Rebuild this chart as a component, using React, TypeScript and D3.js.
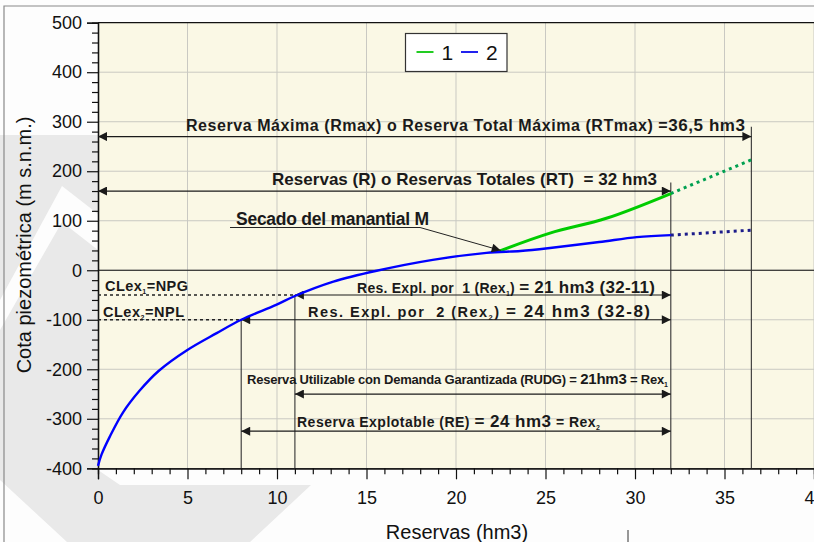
import React, { useEffect, useRef } from 'react';
import * as d3 from 'd3';

// curve 2 (blue), solid part
const blueX = [0, 0.2, 0.66, 1.4, 2.33, 3.4, 4.95, 6.63, 8, 9.95, 11, 13.15, 15.57, 18.7, 21.7, 23.6, 25.25, 28, 30.1, 32];
const blueY = [-395, -372, -336, -287, -243, -203, -162, -127, -100, -70, -52, -23, -1, 21, 35, 39, 45, 57, 67, 71];
// curve 1 (green), from the spring drying point
const greenX = [22.45, 25.25, 28.4, 32];
const greenY = [39, 75, 105, 155];
// dotted extrapolations up to Rmax
const blueDotX = [32, 36.5];
const blueDotY = [71, 81];
const greenDotX = [32, 36.5];
const greenDotY = [155, 223];

const xTicks = [0, 5, 10, 15, 20, 25, 30, 35, 40];
const yTicks = [-400, -300, -200, -100, 0, 100, 200, 300, 400, 500];

const FONT = '"Liberation Sans", Arial, sans-serif';
const NB = '\u00a0';

export default function App() {
  const ref = useRef<SVGSVGElement>(null);

  useEffect(() => {
    const svg = d3.select(ref.current);
    svg.selectAll('*').remove();

    const x = d3.scaleLinear().domain([0, 40]).range([98, 814]);
    const y = d3.scaleLinear().domain([-400, 500]).range([468.3, 22.7]);

    const defs = svg.append('defs');
    ['end', 'start'].forEach((k) => {
      defs.append('marker')
        .attr('id', 'arr-' + k)
        .attr('viewBox', '0 0 10 10')
        .attr('refX', k === 'end' ? 10 : 0)
        .attr('refY', 5)
        .attr('markerWidth', 11)
        .attr('markerHeight', 9)
        .attr('markerUnits', 'userSpaceOnUse')
        .attr('orient', 'auto')
        .append('path')
        .attr('d', k === 'end' ? 'M0,0L10,5L0,10Z' : 'M10,0L0,5L10,10Z')
        .attr('fill', '#1a1a1a');
    });

    // page background + faint watermark shapes
    svg.append('rect').attr('width', 814).attr('height', 542).attr('fill', '#fdfdfd');
    const wm = svg.append('g').attr('fill', '#e9e9e9');
    wm.append('path').attr('d', 'M0,135L98,135L98,470L0,470Z');
    wm.append('path').attr('d', 'M0,470L98,470L120,485L311,485L250,542L67,542L0,480Z');
    svg.append('path').attr('d', 'M0,300L62,186L98,214L98,250L62,222L0,330Z').attr('fill', '#fdfdfd');

    // frame
    svg.append('path').attr('d', 'M4,542L4,6L814,6').attr('fill', 'none').attr('stroke', '#8a8a8a').attr('stroke-width', 1.2);
    svg.append('line').attr('x1', 628).attr('x2', 628).attr('y1', 530).attr('y2', 542).attr('stroke', '#333');

    // plot area
    svg.append('rect')
      .attr('x', x(0)).attr('y', y(500))
      .attr('width', 830 - x(0)).attr('height', y(-400) - y(500))
      .attr('fill', '#faf8e5');

    const grid = svg.append('g').attr('stroke', '#c9c9c2').attr('stroke-width', 1);
    xTicks.slice(1).forEach((t) => {
      grid.append('line').attr('x1', x(t)).attr('x2', x(t)).attr('y1', y(500)).attr('y2', y(-400));
    });
    yTicks.slice(1, -1).forEach((t) => {
      grid.append('line').attr('x1', x(0)).attr('x2', 830).attr('y1', y(t)).attr('y2', y(t));
    });

    // axes
    const fmt = (d: d3.NumberValue) => String(d);
    const xAxis = svg.append('g')
      .attr('transform', `translate(0,${y(-400)})`)
      .call(d3.axisBottom(x).tickValues(xTicks).tickSize(11).tickPadding(12).tickFormat(fmt));
    xAxis.append('g').call(
      d3.axisBottom(x).tickValues(d3.range(0, 41, 1).filter((v) => v % 5 !== 0)).tickSize(6).tickFormat(() => '')
    );
    const yAxis = svg.append('g')
      .attr('transform', `translate(${x(0)},0)`)
      .call(d3.axisLeft(y).tickValues(yTicks).tickSize(11).tickPadding(4).tickFormat(fmt));
    yAxis.append('g').call(
      d3.axisLeft(y).tickValues(d3.range(-400, 501, 20).filter((v) => v % 100 !== 0)).tickSize(6).tickFormat(() => '')
    );
    svg.selectAll('.domain').attr('stroke', '#111').attr('stroke-width', 1.3);
    svg.selectAll('.tick line').attr('stroke', '#111').attr('stroke-width', 1.2);
    svg.selectAll('.tick text').attr('font-family', FONT).attr('font-size', 18).attr('fill', '#111');
    yAxis.selectAll('.tick text').attr('x', -16);
    // top border
    svg.append('line').attr('x1', x(0)).attr('x2', 830).attr('y1', y(500)).attr('y2', y(500)).attr('stroke', '#111').attr('stroke-width', 1.3);

    // zero line
    svg.append('line').attr('x1', x(0)).attr('x2', 830).attr('y1', y(0)).attr('y2', y(0)).attr('stroke', '#111').attr('stroke-width', 1.2);

    // vertical reference lines
    const vref: [number, number][] = [[8, -100], [11, -50], [32, 177], [36.5, 290]];
    vref.forEach(([vx, top]) => {
      svg.append('line').attr('x1', x(vx)).attr('x2', x(vx)).attr('y1', y(top)).attr('y2', y(-400))
        .attr('stroke', '#333').attr('stroke-width', 1.1);
    });

    // dashed level lines
    [[11, -50], [8, -100]].forEach(([vx, lv]) => {
      svg.append('line').attr('x1', x(0)).attr('x2', x(vx)).attr('y1', y(lv)).attr('y2', y(lv))
        .attr('stroke', '#222').attr('stroke-width', 1.3).attr('stroke-dasharray', '3,3');
    });

    // double arrows
    const arrows: [number, number, number][] = [
      [0, 36.5, 270], [0, 32, 160], [11, 32, -50], [8, 32, -100], [11, 32, -250], [8, 32, -325],
    ];
    arrows.forEach(([a, b, lv]) => {
      svg.append('line').attr('x1', x(a)).attr('x2', x(b)).attr('y1', y(lv)).attr('y2', y(lv))
        .attr('stroke', '#1a1a1a').attr('stroke-width', 1.2)
        .attr('marker-start', 'url(#arr-start)').attr('marker-end', 'url(#arr-end)');
    });

    // curves
    const line = d3.line<[number, number]>().x((d) => x(d[0])).y((d) => y(d[1])).curve(d3.curveCatmullRom.alpha(0.5));
    const zip = (xs: number[], ys: number[]) => xs.map((v, i) => [v, ys[i]] as [number, number]);
    svg.append('path').attr('d', line(zip(blueDotX, blueDotY))).attr('fill', 'none')
      .attr('stroke', '#1c1c8a').attr('stroke-width', 3).attr('stroke-dasharray', '3,4');
    svg.append('path').attr('d', line(zip(greenDotX, greenDotY))).attr('fill', 'none')
      .attr('stroke', '#00a050').attr('stroke-width', 3).attr('stroke-dasharray', '3,4');
    svg.append('path').attr('d', line(zip(greenX, greenY))).attr('fill', 'none')
      .attr('stroke', '#00cc00').attr('stroke-width', 3);
    svg.append('path').attr('d', line(zip(blueX, blueY))).attr('fill', 'none')
      .attr('stroke', '#0000ff').attr('stroke-width', 2.4);

    // spring pointer
    svg.append('line').attr('x1', 230).attr('x2', 420).attr('y1', 227.5).attr('y2', 227.5).attr('stroke', '#222').attr('stroke-width', 1);
    svg.append('line').attr('x1', 420).attr('x2', x(22.5)).attr('y1', 227.5).attr('y2', y(40)).attr('stroke', '#222').attr('stroke-width', 1)
      .attr('marker-end', 'url(#arr-end)');

    // texts: parts are [text, size, subscript?]; width forces the span seen in the reference
    const txt = (tx: number, ty: number, width: number, parts: [string, number, boolean?][]) => {
      const t = svg.append('text').attr('x', tx).attr('y', ty).attr('font-family', FONT)
        .attr('font-weight', 'bold').attr('fill', '#1a1a1a')
        .attr('textLength', width).attr('lengthAdjust', 'spacing');
      let lastSub = false;
      parts.forEach(([s, size, sub]) => {
        const sp = t.append('tspan').attr('font-size', size).text(s);
        if (sub) sp.attr('dy', 3);
        else if (lastSub) sp.attr('dy', -3);
        lastSub = !!sub;
      });
      return t;
    };
    txt(186, 131, 559, [['Reserva Máxima (Rmax) o Reserva Total Máxima (RTmax) =', 16], ['36,5 hm3', 17]]);
    txt(272, 185, 385, [[`Reservas (R) o Reservas Totales (RT)${NB} = 32 hm3`, 17]]);
    txt(236, 225, 193, [['Secado del manantial M', 17.5]]);
    txt(105, 291, 83, [['CLex', 14.5], ['1', 7, true], ['=NPG', 14.5]]);
    txt(103, 317, 81, [['CLex', 14.5], ['2', 7, true], ['=NPL', 14.5]]);
    txt(357, 293, 298, [[`Res. Expl. por${NB} 1 (Rex`, 14], ['1', 7, true], [') ', 14], ['= 21 hm3 (32-11)', 17]]);
    txt(308, 317, 342, [[`Res. Expl. por${NB} 2 (Rex`, 14.5], ['2', 7.5, true], [') ', 14.5], ['= 24 hm3 (32-8)', 17]]);
    txt(247, 384, 421, [['Reserva Utilizable con Demanda Garantizada (RUDG) = ', 13], ['21hm3', 15], [' = Rex', 13], ['1', 7, true]]);
    txt(297, 427, 303, [['Reserva Explotable (RE) ', 14], ['= 24 hm3', 17], [' = Rex', 14], ['2', 7, true]]);

    // axis titles
    svg.append('text').attr('transform', 'translate(31,245) rotate(-90)').attr('text-anchor', 'middle')
      .attr('font-family', FONT).attr('font-size', 20).attr('fill', '#111').text('Cota piezométrica (m s.n.m.)');
    svg.append('text').attr('x', 457).attr('y', 539).attr('text-anchor', 'middle')
      .attr('font-family', FONT).attr('font-size', 20).attr('fill', '#111').text('Reservas (hm3)');

    // legend
    const lg = svg.append('g');
    lg.append('rect').attr('x', 405.5).attr('y', 33.5).attr('width', 101.5).attr('height', 38)
      .attr('fill', '#fff').attr('stroke', '#333').attr('stroke-width', 1.2);
    [['1', '#22cc22', 416.5], ['2', '#2222ee', 461]].forEach(([lab, col, lx]) => {
      lg.append('line').attr('x1', lx as number).attr('x2', (lx as number) + 17).attr('y1', 52).attr('y2', 52)
        .attr('stroke', col as string).attr('stroke-width', 2);
      lg.append('text').attr('x', (lx as number) + 25).attr('y', 59.5).attr('font-family', FONT).attr('font-size', 21)
        .attr('fill', '#111').text(lab as string);
    });
  }, []);

  return <svg ref={ref} width={814} height={542} style={{ position: 'absolute', left: 0, top: 0 }} />;
}
